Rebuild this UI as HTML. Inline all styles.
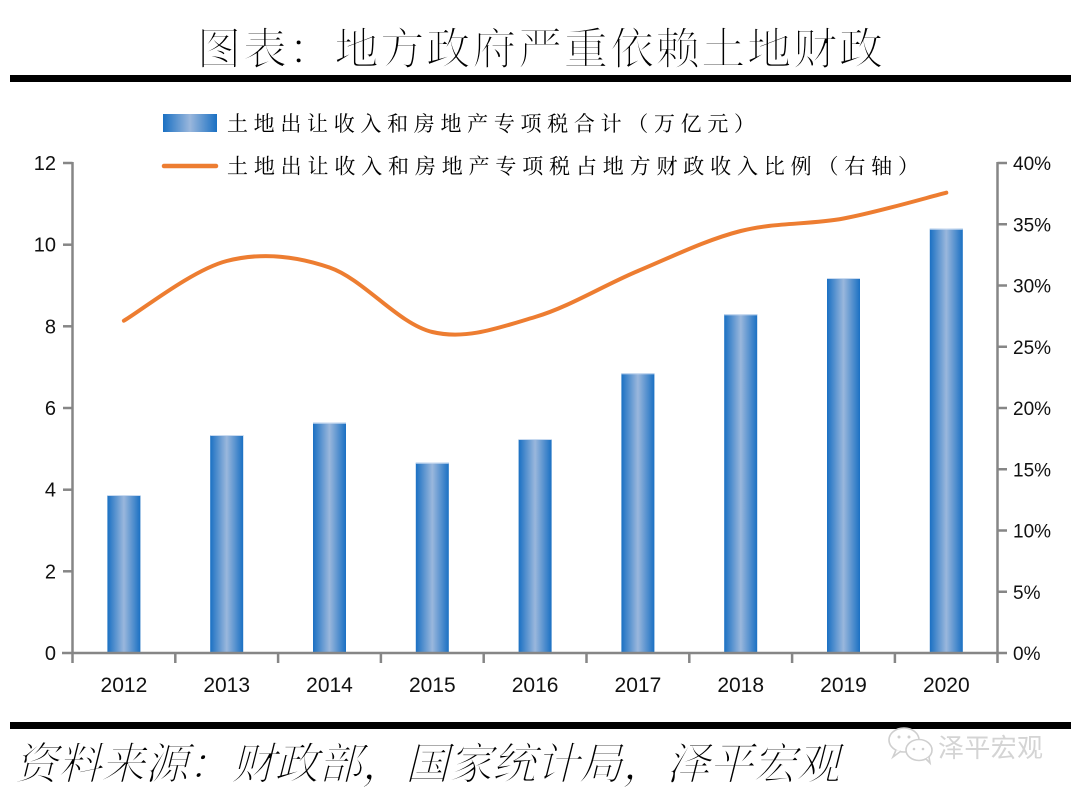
<!DOCTYPE html>
<html>
<head>
<meta charset="utf-8">
<style>
  html,body{margin:0;padding:0;background:#fff;}
  svg{display:block;}
</style>
</head>
<body>
<svg width="1080" height="795" viewBox="0 0 1080 795" xmlns="http://www.w3.org/2000/svg">
  <defs>
    <linearGradient id="bar" x1="0" y1="0" x2="1" y2="0">
      <stop offset="0" stop-color="#1a70c3"/>
      <stop offset="0.5" stop-color="#9ab7dc"/>
      <stop offset="1" stop-color="#1a70c3"/>
    </linearGradient>
  </defs>
  <rect width="1080" height="795" fill="#fff"/>

  <!-- Title -->
  <text x="197" y="64" font-family="'Noto Serif CJK SC','Liberation Serif',serif" font-weight="300" font-size="44" fill="#000" stroke="#fff" stroke-width="0.9" textLength="686" lengthAdjust="spacing">图表：地方政府严重依赖土地财政</text>
  <rect x="10" y="75" width="1061" height="7" fill="#000"/>

  <!-- Legend -->
  <rect x="163" y="114" width="54" height="18" fill="url(#bar)"/>
  <text x="227" y="131" font-family="'Noto Serif CJK SC','Liberation Serif',serif" font-size="21" fill="#000" textLength="528" lengthAdjust="spacing">土地出让收入和房地产专项税合计（万亿元）</text>
  <line x1="164" y1="166" x2="216" y2="166" stroke="#ED7D31" stroke-width="4.5" stroke-linecap="round"/>
  <text x="227" y="173.5" font-family="'Noto Serif CJK SC','Liberation Serif',serif" font-size="21" fill="#000" textLength="692" lengthAdjust="spacing">土地出让收入和房地产专项税占地方财政收入比例（右轴）</text>

  <!-- Bars -->
  <g fill="url(#bar)">
    <rect x="107.4" y="495" width="33" height="158"/>
    <rect x="210.2" y="435" width="33" height="218"/>
    <rect x="313" y="422.7" width="33" height="230.3"/>
    <rect x="415.8" y="462.7" width="33" height="190.3"/>
    <rect x="518.6" y="439" width="33" height="214"/>
    <rect x="621.4" y="373.3" width="33" height="279.7"/>
    <rect x="724.2" y="314.3" width="33" height="338.7"/>
    <rect x="827" y="278" width="33" height="375"/>
    <rect x="929.8" y="228.7" width="33" height="424.3"/>
  </g>
  <g fill="#c8daf0">
    <rect x="107.4" y="495" width="33" height="1"/>
    <rect x="210.2" y="435" width="33" height="1"/>
    <rect x="313" y="422.7" width="33" height="1"/>
    <rect x="415.8" y="462.7" width="33" height="1"/>
    <rect x="518.6" y="439" width="33" height="1"/>
    <rect x="621.4" y="373.3" width="33" height="1"/>
    <rect x="724.2" y="314.3" width="33" height="1"/>
    <rect x="827" y="278" width="33" height="1"/>
    <rect x="929.8" y="228.7" width="33" height="1"/>
  </g>

  <!-- Axes -->
  <g stroke="#868686" stroke-width="2.5" fill="none">
    <line x1="72.5" y1="162" x2="72.5" y2="654"/>
    <line x1="62" y1="653" x2="1007" y2="653"/>
    <line x1="997.5" y1="162" x2="997.5" y2="654"/>
    <line x1="63" y1="163" x2="72.5" y2="163"/>
    <line x1="63" y1="244.7" x2="72.5" y2="244.7"/>
    <line x1="63" y1="326.3" x2="72.5" y2="326.3"/>
    <line x1="63" y1="408" x2="72.5" y2="408"/>
    <line x1="63" y1="489.7" x2="72.5" y2="489.7"/>
    <line x1="63" y1="571.3" x2="72.5" y2="571.3"/>
    <line x1="997.5" y1="163" x2="1007" y2="163"/>
    <line x1="997.5" y1="224.25" x2="1007" y2="224.25"/>
    <line x1="997.5" y1="285.5" x2="1007" y2="285.5"/>
    <line x1="997.5" y1="346.75" x2="1007" y2="346.75"/>
    <line x1="997.5" y1="408" x2="1007" y2="408"/>
    <line x1="997.5" y1="469.25" x2="1007" y2="469.25"/>
    <line x1="997.5" y1="530.5" x2="1007" y2="530.5"/>
    <line x1="997.5" y1="591.75" x2="1007" y2="591.75"/>
    <line x1="72.5" y1="653" x2="72.5" y2="663"/>
    <line x1="175.3" y1="653" x2="175.3" y2="663"/>
    <line x1="278.1" y1="653" x2="278.1" y2="663"/>
    <line x1="380.9" y1="653" x2="380.9" y2="663"/>
    <line x1="483.7" y1="653" x2="483.7" y2="663"/>
    <line x1="586.5" y1="653" x2="586.5" y2="663"/>
    <line x1="689.3" y1="653" x2="689.3" y2="663"/>
    <line x1="792.1" y1="653" x2="792.1" y2="663"/>
    <line x1="894.9" y1="653" x2="894.9" y2="663"/>
    <line x1="997.5" y1="653" x2="997.5" y2="663"/>
  </g>

  <!-- Line series -->
  <path d="M123.9,320.7 C141.03,310.75 192.43,269.87 226.7,261
           C260.97,252.13 295.23,255.67 329.5,267.5
           C363.77,279.33 398.03,323.75 432.3,332
           C466.57,340.25 500.83,327.17 535.1,317
           C569.37,306.83 603.63,285.33 637.9,271
           C672.17,256.67 706.43,239.75 740.7,231
           C774.97,222.25 809.23,224.88 843.5,218.5
           C877.77,212.12 929.17,197 946.3,192.7"
        fill="none" stroke="#ED7D31" stroke-width="4" stroke-linecap="round" stroke-linejoin="round"/>

  <!-- Left axis labels -->
  <g font-family="'Liberation Sans',sans-serif" font-size="20" fill="#111" text-anchor="end">
    <text x="56" y="660">0</text>
    <text x="56" y="578.3">2</text>
    <text x="56" y="496.7">4</text>
    <text x="56" y="415">6</text>
    <text x="56" y="333.3">8</text>
    <text x="56" y="251.7">10</text>
    <text x="56" y="170">12</text>
  </g>

  <!-- Right axis labels -->
  <g font-family="'Liberation Sans',sans-serif" font-size="19" fill="#111">
    <text x="1013" y="660">0%</text>
    <text x="1013" y="598.75">5%</text>
    <text x="1013" y="537.5">10%</text>
    <text x="1013" y="476.25">15%</text>
    <text x="1013" y="415">20%</text>
    <text x="1013" y="353.75">25%</text>
    <text x="1013" y="292.5">30%</text>
    <text x="1013" y="231.25">35%</text>
    <text x="1013" y="170">40%</text>
  </g>

  <!-- Year labels -->
  <g font-family="'Liberation Sans',sans-serif" font-size="21" fill="#111" text-anchor="middle">
    <text x="123.9" y="692">2012</text>
    <text x="226.7" y="692">2013</text>
    <text x="329.5" y="692">2014</text>
    <text x="432.3" y="692">2015</text>
    <text x="535.1" y="692">2016</text>
    <text x="637.9" y="692">2017</text>
    <text x="740.7" y="692">2018</text>
    <text x="843.5" y="692">2019</text>
    <text x="946.3" y="692">2020</text>
  </g>

  <!-- Bottom rule -->
  <rect x="10" y="722" width="1061" height="7" fill="#000"/>

  <!-- Source -->
  <g transform="translate(14,779) skewX(-14)">
    <text x="0" y="0" font-family="'Noto Serif CJK SC','Liberation Serif',serif" font-weight="300" font-size="44" fill="#000" stroke="#fff" stroke-width="0.9" textLength="826" lengthAdjust="spacing">资料来源：财政部，国家统计局，泽平宏观</text>
  </g>

  <!-- Watermark -->
  <g fill="#fff" stroke="#cfcfcf" stroke-width="1.6">
    <ellipse cx="904" cy="740" rx="15" ry="12"/>
    <path d="M896,750 L893,757 L901,751"/>
    <ellipse cx="919" cy="750" rx="13" ry="10.5"/>
    <path d="M926,759 L930,763 L929,757"/>
  </g>
  <g fill="#cfcfcf">
    <circle cx="899" cy="737" r="1.5"/>
    <circle cx="909" cy="737" r="1.5"/>
    <circle cx="914" cy="749" r="1.3"/>
    <circle cx="923" cy="749" r="1.3"/>
  </g>
  <text x="938" y="757" font-family="'Liberation Sans','Noto Sans CJK SC',sans-serif" font-size="26" fill="#d4d4d4" textLength="105" lengthAdjust="spacing">泽平宏观</text>
</svg>
</body>
</html>
